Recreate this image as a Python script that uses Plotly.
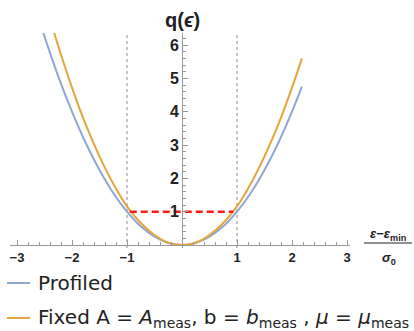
import plotly.graph_objects as go

W, H = 414, 331

# ---- data ----
profiled_x = [-2.55, -2.25, -2.0, -1.75, -1.5, -1.25, -1.0, -0.75, -0.5, -0.25, 0.0,
              0.25, 0.5, 0.75, 1.0, 1.25, 1.5, 1.75, 2.0, 2.18]
profiled_y = [6.5, 5.06, 4.0, 3.06, 2.25, 1.56, 1.0, 0.56, 0.25, 0.06, 0.0,
              0.06, 0.25, 0.56, 1.0, 1.56, 2.25, 3.06, 4.0, 4.75]
fixed_x = [-2.35, -2.25, -2.0, -1.75, -1.5, -1.25, -1.0, -0.75, -0.5, -0.25, 0.0,
           0.25, 0.5, 0.75, 1.0, 1.25, 1.5, 1.75, 2.0, 2.18]
fixed_y = [6.5, 5.97, 4.72, 3.61, 2.66, 1.84, 1.16, 0.66, 0.30, 0.07, 0.0,
           0.07, 0.30, 0.66, 1.16, 1.84, 2.66, 3.61, 4.72, 5.6]
interval_x = [-0.95, 0.93]
interval_y = [1, 1]
sigma_bounds = [-1, 1]
x_tick_vals = [-3, -2, -1, 1, 2, 3]
x_tick_text = ["\u22123", "\u22122", "\u22121", "1", "2", "3"]
y_tick_vals = [1, 2, 3, 4, 5, 6]
legend_labels = [
    "Profiled",
    "Fixed A = <i>A</i><sub>meas</sub>, b = <i>b</i><sub>meas</sub> , <i>\u03bc</i> = <i>\u03bc</i><sub>meas</sub>",
]

BLUE = "#8fa8d2"
ORANGE = "#e6a53c"
TXT = "#222222"
AX = "#999999"
FONT = "Liberation Sans, Arial, sans-serif"

# pixel geometry helpers
X0PIX, XUNIT = 182, 55.0
Y0PIX, YUNIT = 245, 33.33
def px_x(p): return p / W
def px_y(p): return (H - p) / H

x_dom = [px_x(10), px_x(350)]
x_rng = [(10 - X0PIX) / XUNIT, (350 - X0PIX) / XUNIT]
y_dom = [px_y(248), px_y(33)]
y_rng = [(Y0PIX - 248) / YUNIT, (Y0PIX - 33) / YUNIT]

fig = go.Figure()
for xv in sigma_bounds:
    fig.add_trace(go.Scatter(x=[xv, xv], y=[y_rng[0], y_rng[1]], mode="lines",
                             line=dict(color="#8a8a8a", width=1, dash="3px,3px"),
                             showlegend=False, hoverinfo="skip"))
fig.add_trace(go.Scatter(x=profiled_x, y=profiled_y, mode="lines", line_shape="spline",
                         line=dict(color=BLUE, width=2), name=legend_labels[0], showlegend=False))
fig.add_trace(go.Scatter(x=fixed_x, y=fixed_y, mode="lines", line_shape="spline",
                         line=dict(color=ORANGE, width=2), name=legend_labels[1], showlegend=False))
fig.add_trace(go.Scatter(x=interval_x, y=interval_y, mode="lines",
                         line=dict(color="#ff1a1a", width=2.5, dash="7px,4px"),
                         showlegend=False, hoverinfo="skip"))

fig.update_layout(
    width=W, height=H, autosize=False,
    margin=dict(l=0, r=0, t=0, b=0),
    paper_bgcolor="white", plot_bgcolor="rgba(0,0,0,0)",
    font=dict(family=FONT, color=TXT),
    xaxis=dict(domain=x_dom, range=x_rng, anchor="free", position=px_y(Y0PIX),
               showgrid=False, zeroline=False, showline=True, linecolor=AX, linewidth=1,
               tickmode="array", tickvals=x_tick_vals, ticktext=x_tick_text,
               ticks="inside", ticklen=5, tickcolor=AX, tickwidth=1,
               tickfont=dict(size=13, color=TXT, family=FONT, weight="bold"),
               minor=dict(dtick=0.2, tick0=0, ticks="inside", ticklen=3, tickcolor=AX, showgrid=False),
               automargin=False, fixedrange=True),
    yaxis=dict(domain=y_dom, range=y_rng, anchor="free", position=px_x(X0PIX),
               showgrid=False, zeroline=False, showline=True, linecolor=AX, linewidth=1,
               tickmode="array", tickvals=y_tick_vals,
               ticks="inside", ticklen=5, tickcolor=AX, tickwidth=1,
               tickfont=dict(size=16, color=TXT, family=FONT, weight="bold"),
               minor=dict(dtick=0.2, tick0=0, ticks="inside", ticklen=3, tickcolor=AX, showgrid=False),
               automargin=False, fixedrange=True),
)

ann = []
ann.append(dict(x=px_x(182), y=px_y(20), xref="paper", yref="paper", showarrow=False,
                text="<b>q(<i>\u03f5</i>)</b>", font=dict(size=20, color=TXT),
                xanchor="center", yanchor="middle"))
ann.append(dict(x=px_x(388), y=px_y(234), xref="paper", yref="paper", showarrow=False,
                text="<b><i>\u03b5</i>\u2212<i>\u03b5</i><sub>min</sub></b>", font=dict(size=13, color=TXT),
                xanchor="center", yanchor="middle"))
ann.append(dict(x=px_x(389), y=px_y(258), xref="paper", yref="paper", showarrow=False,
                text="<b><i>\u03c3</i><sub>0</sub></b>", font=dict(size=13, color=TXT),
                xanchor="center", yanchor="middle"))
legend_y = [283, 318]
legend_cols = [BLUE, ORANGE]
shapes = [dict(type="line", xref="paper", yref="paper", x0=px_x(364), x1=px_x(412),
               y0=px_y(243), y1=px_y(243), line=dict(color=TXT, width=1.2))]
for lab, yy, col in zip(legend_labels, legend_y, legend_cols):
    shapes.append(dict(type="line", xref="paper", yref="paper", x0=px_x(7), x1=px_x(30),
                       y0=px_y(yy), y1=px_y(yy), line=dict(color=col, width=2)))
    ann.append(dict(x=px_x(36), y=px_y(yy), xref="paper", yref="paper", showarrow=False,
                    text=lab, font=dict(size=20, color=TXT, family="DejaVu Sans, sans-serif"),
                    xanchor="left", yanchor="middle"))
fig.update_layout(annotations=ann, shapes=shapes)

fig.write_html("out.html", config={"displayModeBar": False},
               post_script="document.body.style.margin='0px';")
